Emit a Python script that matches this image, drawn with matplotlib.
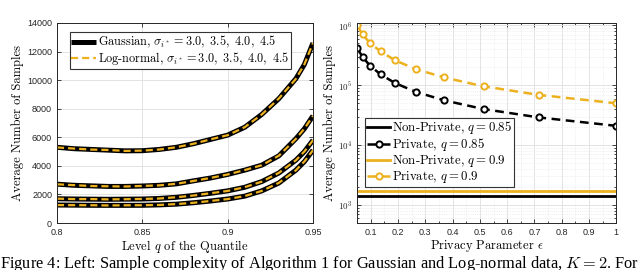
import matplotlib
matplotlib.use('Agg')
import matplotlib.pyplot as plt
import numpy as np
from matplotlib.ticker import MultipleLocator, LogLocator, NullFormatter, FuncFormatter

# left panel: average samples vs quantile level q (four sigma values)
q_levels = [0.80, 0.81, 0.82, 0.83, 0.84, 0.85, 0.86, 0.87, 0.88,
            0.89, 0.90, 0.91, 0.92, 0.93, 0.94, 0.945, 0.95]
gauss_s30 = [1260, 1250, 1240, 1235, 1235, 1240, 1270, 1320, 1420,
             1540, 1680, 1880, 2250, 2800, 3700, 4300, 5100]
gauss_s35 = [1700, 1680, 1670, 1660, 1670, 1680, 1720, 1800, 1930,
             2080, 2250, 2500, 2900, 3500, 4400, 5000, 5800]
gauss_s40 = [2720, 2640, 2600, 2560, 2560, 2590, 2640, 2740, 2950,
             3150, 3400, 3700, 4050, 4700, 5900, 6600, 7500]
gauss_s45 = [5300, 5200, 5150, 5100, 5050, 5060, 5150, 5300, 5550,
             5850, 6150, 6700, 7600, 8700, 10100, 11100, 12600]
logn_s30 = [1255, 1250, 1245, 1230, 1240, 1245, 1265, 1325, 1415,
            1545, 1675, 1885, 2245, 2810, 3690, 4310, 5090]
logn_s35 = [1705, 1675, 1675, 1655, 1665, 1685, 1715, 1805, 1925,
            2085, 2245, 2505, 2895, 3510, 4390, 5010, 5790]
logn_s40 = [2710, 2650, 2590, 2570, 2555, 2595, 2635, 2745, 2945,
            3155, 3395, 3705, 4045, 4710, 5890, 6610, 7490]
logn_s45 = [5290, 5210, 5140, 5110, 5045, 5065, 5145, 5305, 5545,
            5855, 6145, 6705, 7595, 8710, 10090, 11110, 12590]

# right panel: average samples vs privacy parameter epsilon
eps_values = [0.05, 0.07, 0.097, 0.136, 0.189, 0.264, 0.369, 0.514, 0.717, 1.0]
private_q085 = [4.2e5, 2.97e5, 2.13e5, 1.52e5, 1.09e5, 7.8e4, 5.6e4, 4.0e4, 2.9e4, 2.1e4]
private_q09 = [1.0e6, 7.1e5, 5.07e5, 3.69e5, 2.61e5, 1.87e5, 1.35e5, 9.6e4, 6.9e4, 5.0e4]
nonprivate_q085 = 1410
nonprivate_q09 = 1710

orange = '#EDB120'
tick_gray = '#262626'

plt.rcParams['font.family'] = 'cmr10'
plt.rcParams['mathtext.fontset'] = 'cm'
plt.rcParams['axes.unicode_minus'] = False
plt.rcParams['axes.formatter.use_mathtext'] = True

fig = plt.figure(figsize=(6.4, 2.7), dpi=100)
ax1 = fig.add_axes([0.089, 0.174, 0.400, 0.741])
ax2 = fig.add_axes([0.558, 0.174, 0.405, 0.741])

# ---- left ----
gauss = [gauss_s30, gauss_s35, gauss_s40, gauss_s45]
logn = [logn_s30, logn_s35, logn_s40, logn_s45]
for i, g in enumerate(gauss):
    ax1.plot(q_levels, g, color='black', lw=3.6, solid_capstyle='butt',
             label=r'Gaussian, $\sigma_{i^*} = 3.0,\ 3.5,\ 4.0,\ 4.5$' if i == 0 else None)
for i, l in enumerate(logn):
    ax1.plot(q_levels, l, color=orange, lw=1.6, ls=(0, (3.2, 1.8)),
             label=r'Log-normal, $\sigma_{i^*} = 3.0,\ 3.5,\ 4.0,\ 4.5$' if i == 0 else None)

ax1.set_xlim(0.8, 0.95)
ax1.set_ylim(0, 14000)
ax1.set_xticks([0.8, 0.85, 0.9, 0.95])
ax1.set_xticklabels(['0.8', '0.85', '0.9', '0.95'])
ax1.set_yticks(range(0, 14001, 2000))
ax1.set_yticklabels([str(v) for v in range(0, 14001, 2000)])
ax1.grid(True, color='#e3e3e3', lw=0.7)
ax1.set_axisbelow(True)
ax1.set_xlabel(r'Level $q$ of the Quantile', fontsize=9, labelpad=1)
ax1.set_ylabel('Average Number of Samples', fontsize=9, labelpad=2)
leg1 = ax1.legend(loc='upper left', bbox_to_anchor=(0.04, 0.965), fontsize=8.8,
                  handlelength=2.0, handletextpad=0.15, borderpad=0.15,
                  labelspacing=0.0, borderaxespad=0.2, fancybox=False, framealpha=1)
leg1.get_frame().set_edgecolor('#333333')
leg1.get_frame().set_linewidth(0.8)

# ---- right ----
ax2.axhline(nonprivate_q085, color='black', lw=2.0, label=r'Non-Private, $q = 0.85$')
ax2.plot(eps_values, private_q085, color='black', lw=1.8, ls=(0, (3.5, 2.2)),
         marker='o', ms=4.5, mfc='white', mew=1.4, label=r'Private, $q = 0.85$')
ax2.axhline(nonprivate_q09, color=orange, lw=2.0, label=r'Non-Private, $q = 0.9$')
ax2.plot(eps_values, private_q09, color=orange, lw=1.8, ls=(0, (3.5, 2.2)),
         marker='o', ms=4.5, mfc='white', mew=1.4, label=r'Private, $q = 0.9$')

ax2.set_yscale('log')
ax2.set_xlim(0.05, 1.0)
ax2.set_ylim(500, 1.1e6)
ax2.set_xticks(np.arange(1, 11) / 10)
ax2.set_xticklabels(['0.1', '0.2', '0.3', '0.4', '0.5', '0.6', '0.7', '0.8', '0.9', '1'])
ax2.xaxis.set_minor_locator(MultipleLocator(0.05))
ax2.yaxis.set_major_locator(LogLocator(base=10, numticks=10))
ax2.yaxis.set_major_formatter(FuncFormatter(lambda v, p: r'$\mathsf{10^{%d}}$' % round(np.log10(v))))
ax2.yaxis.set_minor_locator(LogLocator(base=10, subs=np.arange(2, 10), numticks=20))
ax2.yaxis.set_minor_formatter(NullFormatter())
ax2.grid(True, which='major', color='#e3e3e3', lw=0.7)
ax2.grid(True, which='minor', color='#e3e3e3', lw=0.5, ls=':')
ax2.set_axisbelow(True)
ax2.set_xlabel(r'Privacy Parameter $\epsilon$', fontsize=9, labelpad=1)
ax2.set_ylabel('Average Number of Samples', fontsize=9, labelpad=1)
leg2 = ax2.legend(loc='upper left', bbox_to_anchor=(0.02, 0.54), fontsize=9.2,
                  handlelength=1.85, handletextpad=0.15, borderpad=0.15,
                  labelspacing=0.0, borderaxespad=0.2, fancybox=False, framealpha=1)
leg2.get_frame().set_edgecolor('#333333')
leg2.get_frame().set_linewidth(0.8)

for ax in (ax1, ax2):
    ax.tick_params(which='both', direction='in', top=True, right=True,
                   labelsize=6.5, colors=tick_gray, labelfontfamily='Liberation Sans',
                   length=3, width=0.6, pad=3.5)
    ax.tick_params(which='minor', length=1.5)
    for s in ax.spines.values():
        s.set_color(tick_gray)
        s.set_linewidth(0.7)

# caption cut off at the bottom edge, as in the source page
fig.text(0.0, 0.006, r'Figure 4: Left: Sample complexity of Algorithm 1 for Gaussian and Log-normal data, $K = 2$. For',
         fontsize=11.8, family='Liberation Serif', va='baseline', ha='left')

fig.savefig('out.png', dpi=100)
